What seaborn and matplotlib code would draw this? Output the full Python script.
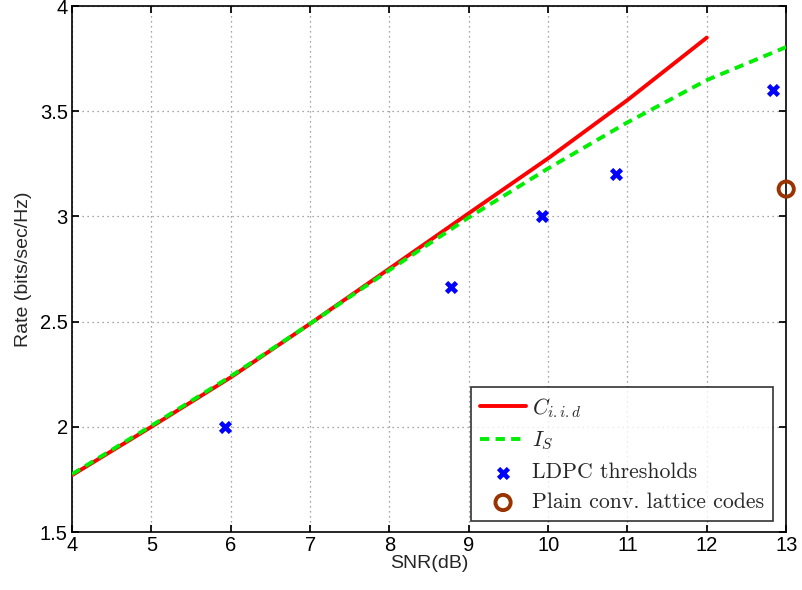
import matplotlib
matplotlib.use("Agg")
import matplotlib.pyplot as plt
import seaborn as sns
import pandas as pd

# Data
snr_c = [4, 5, 6, 7, 8, 9, 10, 11, 12]
rate_c = [1.77, 2.0, 2.235, 2.49, 2.752, 3.015, 3.276, 3.553, 3.85]
snr_i = [4, 5, 6, 7, 8, 9, 10, 11, 12, 13]
rate_i = [1.775, 2.005, 2.24, 2.49, 2.745, 2.995, 3.228, 3.447, 3.648, 3.805]
ldpc_snr = [5.93, 8.78, 9.92, 10.86, 12.83]
ldpc_rate = [2.0, 2.665, 3.0, 3.2, 3.6]
lat_snr = [13.0]
lat_rate = [3.13]

sns.set_theme(style="white")
plt.rcParams['font.family'] = ['Liberation Sans', 'DejaVu Sans']
plt.rcParams['mathtext.fontset'] = 'cm'

fig = plt.figure(figsize=(8.02, 5.9), dpi=100)
ax = fig.add_axes([0.0898, 0.0983, 0.8905, 0.8915])

df_c = pd.DataFrame({"snr": snr_c, "rate": rate_c})
df_i = pd.DataFrame({"snr": snr_i, "rate": rate_i})
df_l = pd.DataFrame({"snr": ldpc_snr, "rate": ldpc_rate})
df_p = pd.DataFrame({"snr": lat_snr, "rate": lat_rate})

sns.lineplot(data=df_c, x="snr", y="rate", ax=ax, color="#ff0000", lw=2.8,
             label=r"$C_{i.i.d}$", zorder=3)
sns.lineplot(data=df_i, x="snr", y="rate", ax=ax, color="#00ee00", lw=2.8,
             ls=(0, (2.4, 1.6)), label=r"$I_S$", zorder=4)
sns.scatterplot(data=df_l, x="snr", y="rate", ax=ax, marker="X", color="#0000ff",
                s=90, linewidth=0, label="LDPC thresholds", zorder=5)
sns.scatterplot(data=df_p, x="snr", y="rate", ax=ax, marker="o", facecolor="none",
                edgecolor="#993300", s=120, linewidth=2.8,
                label="Plain conv. lattice codes", zorder=6, clip_on=False)

ax.set_xlim(4, 13)
ax.set_ylim(1.5, 4)
ax.set_xticks(range(4, 14))
ax.set_yticks([1.5, 2, 2.5, 3, 3.5, 4])
ax.set_yticklabels(["1.5", "2", "2.5", "3", "3.5", "4"])
ax.grid(True, color="#888888", ls=(0, (1, 3)), lw=0.9)
ax.tick_params(direction="in", length=5, labelsize=14.5, colors="black",
               top=True, right=True, bottom=True, left=True, pad=3)
for s in ax.spines.values():
    s.set_color("black")
    s.set_linewidth(1.2)
ax.set_xlabel("SNR(dB)", fontsize=14, labelpad=0)
ax.set_ylabel("Rate (bits/sec/Hz)", fontsize=14, labelpad=6)

leg = ax.legend(loc="lower right", bbox_to_anchor=(0.982, 0.021),
                prop={"family": ["cmr10", "DejaVu Serif"], "size": 15.7},
                frameon=True, fancybox=False, edgecolor="black",
                borderpad=0.4, handlelength=2.1, handletextpad=0.3,
                labelspacing=0.48, borderaxespad=0)
leg.get_frame().set_linewidth(1.2)

fig.savefig("out.png", dpi=100)
